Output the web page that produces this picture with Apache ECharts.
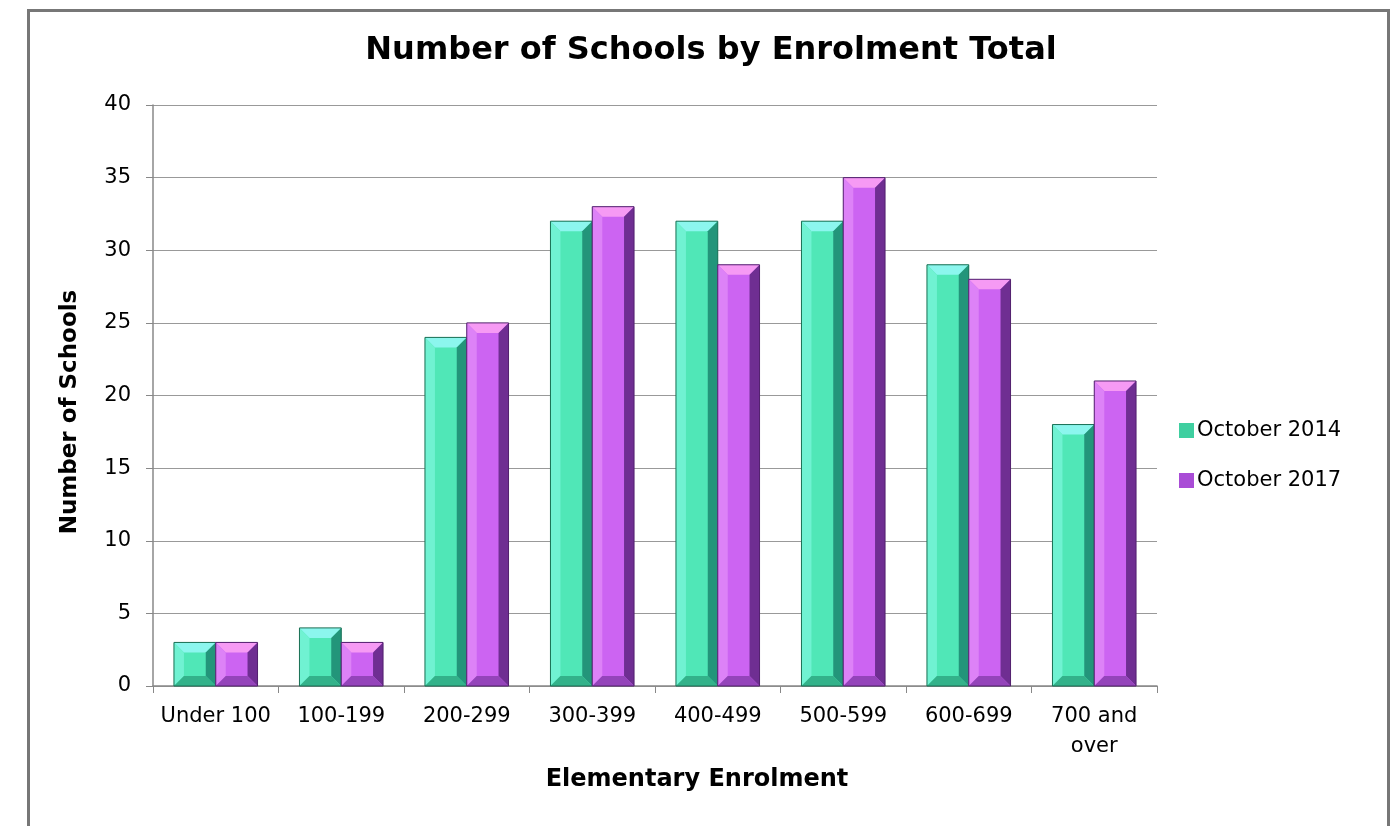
<!DOCTYPE html>
<html><head><meta charset="utf-8">
<script src="https://cdn.jsdelivr.net/npm/echarts@6/dist/echarts.min.js"></script>
<style>html,body{margin:0;padding:0;background:#fff}#c{width:1398px;height:826px}</style>
</head><body><div id="c"></div>
<script>
const categories = ['Under 100','100-199','200-299','300-399','400-499','500-599','600-699','700 and\nover'];
const oct2014 = [3,4,24,32,32,32,29,18];
const oct2017 = [3,3,25,33,29,35,28,21];
const yTicks = {min:0, max:40, interval:5};

const palettes = [
  {face:'#50E7B7', top:'#8CF6EE', left:'#70F2D2', right:'#23957A', bottom:'#33B28A', edge:'#1A6E54'},
  {face:'#CC64F2', top:'#F69AF4', left:'#DD82F7', right:'#6F2E92', bottom:'#9444BA', edge:'#52206E'}
];

function bevelRender(idx){
  return function(params, api){
    const x = api.value(0), v = api.value(1);
    const band = api.size([1,0])[0];
    const bw = band*0.333;
    const center = api.coord([x,0])[0];
    const x0 = idx===0 ? center-bw : center;
    const x1 = x0+bw;
    const yTop = api.coord([x,v])[1];
    const yBot = api.coord([x,0])[1];
    const h = yBot-yTop;
    const b = Math.min(10, h/2.5, bw/3);
    const p = palettes[idx];
    return {type:'group', children:[
      {type:'rect', shape:{x:x0,y:yTop,width:bw,height:h}, style:{fill:p.face}},
      {type:'polygon', shape:{points:[[x0,yTop],[x1,yTop],[x1-b,yTop+b],[x0+b,yTop+b]]}, style:{fill:p.top}},
      {type:'polygon', shape:{points:[[x0,yTop],[x0+b,yTop+b],[x0+b,yBot-b],[x0,yBot]]}, style:{fill:p.left}},
      {type:'polygon', shape:{points:[[x1,yTop],[x1,yBot],[x1-b,yBot-b],[x1-b,yTop+b]]}, style:{fill:p.right}},
      {type:'polygon', shape:{points:[[x0,yBot],[x0+b,yBot-b],[x1-b,yBot-b],[x1,yBot]]}, style:{fill:p.bottom}},
      {type:'rect', shape:{x:x0,y:yTop,width:bw,height:h}, style:{fill:'none',stroke:p.edge,lineWidth:1}}
    ]};
  };
}

const chart = echarts.init(document.getElementById('c'), null, {renderer:'canvas'});
chart.setOption({
  animation:false,
  backgroundColor:'#fff',
  title:{text:'Number of Schools by Enrolment Total', left:706, top:30, textAlign:'center',
    textStyle:{fontFamily:'DejaVu Sans', fontSize:32, fontWeight:'bold', color:'#000'}},
  grid:{left:153, right:241, top:105, bottom:140},
  legend:{orient:'vertical', left:1174, top:415, itemWidth:15, itemHeight:15, itemGap:29, icon:'rect',
    textStyle:{fontFamily:'DejaVu Sans', fontSize:21, color:'#000', padding:[0,0,0,-2]},
    data:[{name:'October 2014', itemStyle:{color:'#3FCFA0'}},{name:'October 2017', itemStyle:{color:'#A94CD6'}}]},
  xAxis:{type:'category', data:categories,
    axisLine:{lineStyle:{color:'#888', width:1.5}},
    axisTick:{show:true, length:7, lineStyle:{color:'#888'}},
    axisLabel:{fontFamily:'DejaVu Sans', fontSize:21, color:'#000', margin:16, lineHeight:30, interval:0}},
  yAxis:{type:'value', min:yTicks.min, max:yTicks.max, interval:yTicks.interval,
    axisLine:{show:true, lineStyle:{color:'#888', width:1.5}},
    axisTick:{show:true, length:7, lineStyle:{color:'#888'}},
    axisLabel:{fontFamily:'DejaVu Sans', fontSize:21, color:'#000', margin:22},
    splitLine:{lineStyle:{color:'#999', width:1}}},
  graphic:[
    {type:'rect', left:26, top:8, shape:{width:1360, height:840}, style:{fill:'none', stroke:'#777', lineWidth:3}, silent:true},
    {type:'text', x:697, y:780, style:{text:'Elementary Enrolment', font:'bold 24px "DejaVu Sans"', fill:'#000', textAlign:'center', textVerticalAlign:'middle'}},
    {type:'text', x:70, y:412, rotation:Math.PI/2, style:{text:'Number of Schools', font:'bold 23px "DejaVu Sans"', fill:'#000', textAlign:'center', textVerticalAlign:'middle'}}
  ],
  series:[
    {name:'October 2014', type:'custom', renderItem:bevelRender(0), itemStyle:{color:'#3FCFA0'},
      data:oct2014.map((v,i)=>[i,v]), encode:{x:0,y:1}},
    {name:'October 2017', type:'custom', renderItem:bevelRender(1), itemStyle:{color:'#A94CD6'},
      data:oct2017.map((v,i)=>[i,v]), encode:{x:0,y:1}}
  ]
});
</script></body></html>
